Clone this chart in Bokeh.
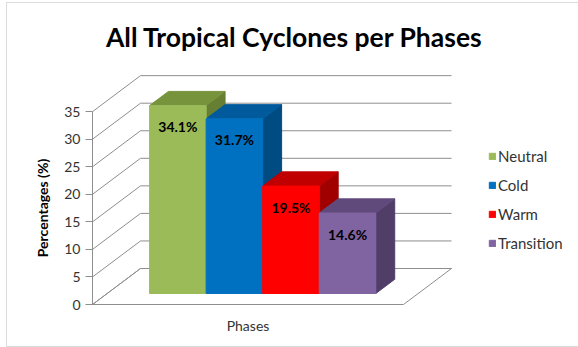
from bokeh.plotting import figure
from bokeh.models import (Range1d, FixedTicker, ColumnDataSource, Legend,
                          LegendItem, BoxAnnotation)
from bokeh.core.properties import value
from bokeh.embed import file_html
from bokeh.resources import INLINE

# ---------------- data ----------------
title_text = "All Tropical Cyclones per Phases"
phases = ["Neutral", "Cold", "Warm", "Transition"]
percentages = [34.1, 31.7, 19.5, 14.6]
front_colors = ["#9BBB59", "#0070C0", "#FF0000", "#8064A2"]
top_colors = ["#77933C", "#005A9C", "#C00000", "#604A7B"]
side_colors = ["#667F33", "#004B82", "#A00000", "#503E68"]
y_ticks = [0, 5, 10, 15, 20, 25, 30, 35]
y_label = "Percentages (%)"
x_label = "Phases"

# ---------------- layout constants ----------------
W, H = 578, 347
PLOT_LEFT = 92          # px of the front vertical axis
FLOOR_PX = 304          # px of the front floor edge
X_PX = 56.55            # px per bar slot
Y_PX = 5.51             # px per percent
DEPTH_DX_PX, DEPTH_DY_PX = 48, 36
GAP = 0.75              # empty slot fraction at each side of the floor
BAR_FRONT, BAR_BACK = 0.306, 0.70
GRID = "#8E8E8E"
FONT = "Lato"

DX = DEPTH_DX_PX / X_PX
DY = DEPTH_DY_PX / Y_PX
n = len(phases)
floor_w = n + 2 * GAP

p = figure(width=W, height=H,
           x_range=Range1d(-PLOT_LEFT / X_PX, (W - PLOT_LEFT) / X_PX),
           y_range=Range1d(-(H - FLOOR_PX) / Y_PX, FLOOR_PX / Y_PX),
           output_backend="svg", toolbar_location=None,
           x_axis_location=None, y_axis_location="left",
           min_border_left=0, min_border_right=0,
           min_border_top=0, min_border_bottom=0)
p.xgrid.visible = False
p.ygrid.visible = False
p.outline_line_color = None
p.background_fill_color = "white"
p.border_fill_color = "white"

# ---------------- outer chart border ----------------
p.add_layout(BoxAnnotation(left=6, right=W + 20, top=2, bottom=346,
                           left_units="canvas", right_units="canvas",
                           top_units="canvas", bottom_units="canvas",
                           fill_alpha=0, line_color="#8C8C8C", line_width=1,
                           level="underlay"))

# ---------------- walls & floor ----------------
p.patch([0, floor_w, floor_w + DX, DX], [0, 0, DY, DY],
        fill_color="white", line_color=GRID, line_width=1)
p.segment(x0=[0] * len(y_ticks), y0=y_ticks,
          x1=[DX] * len(y_ticks), y1=[t + DY for t in y_ticks],
          line_color=GRID, line_width=1)
p.segment(x0=[DX] * len(y_ticks), y0=[t + DY for t in y_ticks],
          x1=[DX + floor_w] * len(y_ticks), y1=[t + DY for t in y_ticks],
          line_color=GRID, line_width=1)

# ---------------- 3D bars ----------------
ddx = (BAR_BACK - BAR_FRONT) * DX
ddy = (BAR_BACK - BAR_FRONT) * DY
xl = [GAP + i + BAR_FRONT * DX for i in range(n)]
xr = [x + 1 for x in xl]
yb = [BAR_FRONT * DY] * n
yt = [v + BAR_FRONT * DY for v in percentages]

side_src = ColumnDataSource(dict(
    xs=[[xr[i], xr[i] + ddx, xr[i] + ddx, xr[i]] for i in range(n)],
    ys=[[yb[i], yb[i] + ddy, yt[i] + ddy, yt[i]] for i in range(n)],
    c=side_colors))
top_src = ColumnDataSource(dict(
    xs=[[xl[i], xr[i], xr[i] + ddx, xl[i] + ddx] for i in range(n)],
    ys=[[yt[i], yt[i], yt[i] + ddy, yt[i] + ddy] for i in range(n)],
    c=top_colors))
front_src = ColumnDataSource(dict(left=xl, right=xr, bottom=yb, top=yt,
                                  c=front_colors, phase=phases))
p.patches("xs", "ys", source=side_src, fill_color="c", line_color="c")
p.patches("xs", "ys", source=top_src, fill_color="c", line_color="c")
front_r = p.quad(left="left", right="right", bottom="bottom", top="top",
                 source=front_src, fill_color="c", line_color="c")

# data labels
p.text(x=[x + 0.5 for x in xl], y=yt,
       text=[f"{v}%" for v in percentages],
       text_align="center", text_baseline="middle", y_offset=21,
       text_font=value(FONT), text_font_style="bold",
       text_font_size="14px", text_color="black")

# title
p.text(x=[(294 - PLOT_LEFT) / X_PX], y=[(FLOOR_PX - 36) / Y_PX],
       text=[title_text], text_align="center", text_baseline="middle",
       text_font=value(FONT), text_font_style="bold",
       text_font_size="26.5px", text_color="black")

# x category label
p.text(x=[floor_w / 2], y=[0], text=[x_label], y_offset=21,
       text_align="center", text_baseline="middle",
       text_font=value(FONT), text_font_size="14px", text_color="#333333")

# ---------------- y axis (drawn at the front-left edge of the box) ----------------
ax = p.yaxis[0]
ax.fixed_location = 0
ax.ticker = FixedTicker(ticks=y_ticks)
ax.bounds = (y_ticks[0], y_ticks[-1])
ax.axis_line_color = GRID
ax.major_tick_line_color = GRID
ax.major_tick_out = 7
ax.major_tick_in = 0
ax.minor_tick_out = 0
ax.minor_tick_in = 0
ax.major_label_text_font = FONT
ax.major_label_text_font_size = "14px"
ax.major_label_text_color = "#333333"
ax.major_label_standoff = 5
ax.axis_label = y_label
ax.axis_label_text_font = FONT
ax.axis_label_text_font_style = "bold"
ax.axis_label_text_font_size = "14px"
ax.axis_label_text_color = "black"
ax.axis_label_standoff = 10

# ---------------- legend ----------------
legend = Legend(items=[LegendItem(label=phases[i], renderers=[front_r], index=i)
                       for i in range(n)],
                location=(488, 94), orientation="vertical",
                glyph_width=8, glyph_height=8, label_standoff=2,
                label_height=20, spacing=9, padding=0, margin=0,
                border_line_color=None, background_fill_alpha=0,
                label_text_font=FONT, label_text_font_size="15px",
                label_text_color="#333333")
p.add_layout(legend, "center")

open("out.html", "w").write(file_html(p, INLINE))
